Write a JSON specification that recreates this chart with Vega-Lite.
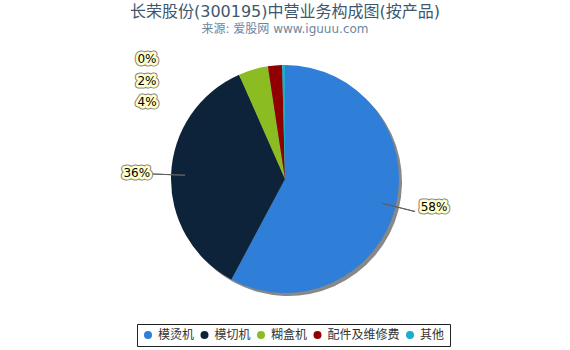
{
  "$schema": "https://vega.github.io/schema/vega-lite/v6.json",
  "width": 567,
  "height": 348,
  "autosize": {"type": "none"},
  "padding": {"left": 0, "top": 0, "right": 3, "bottom": 2},
  "background": "#ffffff",
  "title": {
    "text": "长荣股份(300195)中营业务构成图(按产品)",
    "subtitle": "来源: 爱股网 www.iguuu.com",
    "anchor": "middle",
    "frame": "group",
    "offset": -35,
    "dx": 1.5,
    "fontSize": 16,
    "fontWeight": "normal",
    "color": "#3E576F",
    "font": "DejaVu Sans, Noto Sans CJK SC",
    "subtitleFont": "DejaVu Sans, Noto Sans CJK SC",
    "subtitleFontSize": 12,
    "subtitleColor": "#6D869F",
    "subtitlePadding": 4
  },
  "data": {
    "values": [
      {"类别": "模烫机", "占比": 0.578, "序号": 1},
      {"类别": "模切机", "占比": 0.356, "序号": 2},
      {"类别": "糊盒机", "占比": 0.042, "序号": 3},
      {"类别": "配件及维修费", "占比": 0.020, "序号": 4},
      {"类别": "其他", "占比": 0.004, "序号": 5}
    ]
  },
  "encoding": {
    "theta": {"field": "占比", "type": "quantitative", "stack": true},
    "order": {"field": "序号", "type": "quantitative"},
    "detail": {"field": "类别", "type": "nominal"}
  },
  "resolve": {"scale": {"theta": "independent"}},
  "layer": [
    {"mark": {"type": "arc", "outerRadius": 114, "fill": "#888888", "xOffset": 4.5, "yOffset": 8}},
    {
      "mark": {"type": "arc", "outerRadius": 114, "xOffset": 1.5, "yOffset": 5},
      "encoding": {
        "color": {
          "field": "类别",
          "type": "nominal",
          "scale": {
            "domain": ["模烫机", "模切机", "糊盒机", "配件及维修费", "其他"],
            "range": ["#2f7ed8", "#0d233a", "#8bbc21", "#910000", "#1aadce"]
          },
          "legend": {
            "orient": "none",
            "legendX": 137,
            "legendY": 324,
            "direction": "horizontal",
            "title": null,
            "strokeColor": "#222222",
            "fillColor": "#ffffff",
            "padding": 5,
            "symbolType": "circle",
            "symbolSize": 64,
            "symbolStrokeWidth": 0,
            "labelFontSize": 12,
            "labelFont": "Noto Sans CJK SC",
            "labelColor": "#333333",
            "columnPadding": 3.5,
            "labelOffset": 4
          }
        }
      }
    },
    {
      "mark": {"type": "arc", "innerRadius": 100, "outerRadius": 134, "padAngle": 3, "fill": "transparent", "strokeWidth": 1, "xOffset": 1.5, "yOffset": 5},
      "encoding": {
        "stroke": {"condition": {"test": "datum['类别'] === '模切机'", "value": "#606060"}, "value": "transparent"}
      }
    },
    {
      "mark": {"type": "arc", "innerRadius": 100, "outerRadius": 134, "padAngle": 3, "fill": "transparent", "strokeWidth": 1, "xOffset": 1.5, "yOffset": 5},
      "encoding": {
        "theta": {"field": "占比", "type": "quantitative", "stack": true, "scale": {"range": [0.908, 4.0496]}},
        "stroke": {"condition": {"test": "datum['类别'] === '模烫机'", "value": "#606060"}, "value": "transparent"}
      }
    },
    {
      "mark": {"type": "text", "radius": 150, "dx": 3.5, "dy": -8.4, "align": "center", "baseline": "middle", "font": "DejaVu Sans", "fontSize": 12, "fill": "#808080", "stroke": "#808080", "strokeWidth": 7, "strokeJoin": "round", "xOffset": 1.5, "yOffset": 5},
      "encoding": {"text": {"condition": {"test": "datum['类别'] === '模烫机'", "field": "占比", "type": "quantitative", "format": ".0%"}, "value": ""}}
    },
    {
      "mark": {"type": "text", "radius": 150, "dx": 3.5, "dy": -8.4, "align": "center", "baseline": "middle", "font": "DejaVu Sans", "fontSize": 12, "fill": "#ffffcc", "stroke": "#ffffcc", "strokeWidth": 5, "strokeJoin": "round", "xOffset": 1.5, "yOffset": 5},
      "encoding": {"text": {"condition": {"test": "datum['类别'] === '模烫机'", "field": "占比", "type": "quantitative", "format": ".0%"}, "value": ""}}
    },
    {
      "mark": {"type": "text", "radius": 150, "dx": 3.5, "dy": -8.4, "align": "center", "baseline": "middle", "font": "DejaVu Sans", "fontSize": 12, "fill": "#000000", "xOffset": 1.5, "yOffset": 5},
      "encoding": {"text": {"condition": {"test": "datum['类别'] === '模烫机'", "field": "占比", "type": "quantitative", "format": ".0%"}, "value": ""}}
    },
    {
      "mark": {"type": "text", "radius": 150, "dx": 1.6, "dy": -0.5, "align": "center", "baseline": "middle", "font": "DejaVu Sans", "fontSize": 12, "fill": "#808080", "stroke": "#808080", "strokeWidth": 7, "strokeJoin": "round", "xOffset": 1.5, "yOffset": 5},
      "encoding": {"text": {"condition": {"test": "datum['类别'] === '模切机'", "field": "占比", "type": "quantitative", "format": ".0%"}, "value": ""}}
    },
    {
      "mark": {"type": "text", "radius": 150, "dx": 1.6, "dy": -0.5, "align": "center", "baseline": "middle", "font": "DejaVu Sans", "fontSize": 12, "fill": "#ffffcc", "stroke": "#ffffcc", "strokeWidth": 5, "strokeJoin": "round", "xOffset": 1.5, "yOffset": 5},
      "encoding": {"text": {"condition": {"test": "datum['类别'] === '模切机'", "field": "占比", "type": "quantitative", "format": ".0%"}, "value": ""}}
    },
    {
      "mark": {"type": "text", "radius": 150, "dx": 1.6, "dy": -0.5, "align": "center", "baseline": "middle", "font": "DejaVu Sans", "fontSize": 12, "fill": "#000000", "xOffset": 1.5, "yOffset": 5},
      "encoding": {"text": {"condition": {"test": "datum['类别'] === '模切机'", "field": "占比", "type": "quantitative", "format": ".0%"}, "value": ""}}
    },
    {
      "mark": {"type": "text", "radius": 120, "dx": -104.5, "dy": 38, "align": "center", "baseline": "middle", "font": "DejaVu Sans", "fontSize": 12, "fill": "#808080", "stroke": "#808080", "strokeWidth": 7, "strokeJoin": "round", "xOffset": 1.5, "yOffset": 5},
      "encoding": {"text": {"condition": {"test": "datum['类别'] === '糊盒机'", "field": "占比", "type": "quantitative", "format": ".0%"}, "value": ""}}
    },
    {
      "mark": {"type": "text", "radius": 120, "dx": -104.5, "dy": 38, "align": "center", "baseline": "middle", "font": "DejaVu Sans", "fontSize": 12, "fill": "#ffffcc", "stroke": "#ffffcc", "strokeWidth": 5, "strokeJoin": "round", "xOffset": 1.5, "yOffset": 5},
      "encoding": {"text": {"condition": {"test": "datum['类别'] === '糊盒机'", "field": "占比", "type": "quantitative", "format": ".0%"}, "value": ""}}
    },
    {
      "mark": {"type": "text", "radius": 120, "dx": -104.5, "dy": 38, "align": "center", "baseline": "middle", "font": "DejaVu Sans", "fontSize": 12, "fill": "#000000", "xOffset": 1.5, "yOffset": 5},
      "encoding": {"text": {"condition": {"test": "datum['类别'] === '糊盒机'", "field": "占比", "type": "quantitative", "format": ".0%"}, "value": ""}}
    },
    {
      "mark": {"type": "text", "radius": 120, "dx": -127.5, "dy": 21.3, "align": "center", "baseline": "middle", "font": "DejaVu Sans", "fontSize": 12, "fill": "#808080", "stroke": "#808080", "strokeWidth": 7, "strokeJoin": "round", "xOffset": 1.5, "yOffset": 5},
      "encoding": {"text": {"condition": {"test": "datum['类别'] === '配件及维修费'", "field": "占比", "type": "quantitative", "format": ".0%"}, "value": ""}}
    },
    {
      "mark": {"type": "text", "radius": 120, "dx": -127.5, "dy": 21.3, "align": "center", "baseline": "middle", "font": "DejaVu Sans", "fontSize": 12, "fill": "#ffffcc", "stroke": "#ffffcc", "strokeWidth": 5, "strokeJoin": "round", "xOffset": 1.5, "yOffset": 5},
      "encoding": {"text": {"condition": {"test": "datum['类别'] === '配件及维修费'", "field": "占比", "type": "quantitative", "format": ".0%"}, "value": ""}}
    },
    {
      "mark": {"type": "text", "radius": 120, "dx": -127.5, "dy": 21.3, "align": "center", "baseline": "middle", "font": "DejaVu Sans", "fontSize": 12, "fill": "#000000", "xOffset": 1.5, "yOffset": 5},
      "encoding": {"text": {"condition": {"test": "datum['类别'] === '配件及维修费'", "field": "占比", "type": "quantitative", "format": ".0%"}, "value": ""}}
    },
    {
      "mark": {"type": "text", "radius": 120, "dx": -136.5, "dy": 0.2, "align": "center", "baseline": "middle", "font": "DejaVu Sans", "fontSize": 12, "fill": "#808080", "stroke": "#808080", "strokeWidth": 7, "strokeJoin": "round", "xOffset": 1.5, "yOffset": 5},
      "encoding": {"text": {"condition": {"test": "datum['类别'] === '其他'", "field": "占比", "type": "quantitative", "format": ".0%"}, "value": ""}}
    },
    {
      "mark": {"type": "text", "radius": 120, "dx": -136.5, "dy": 0.2, "align": "center", "baseline": "middle", "font": "DejaVu Sans", "fontSize": 12, "fill": "#ffffcc", "stroke": "#ffffcc", "strokeWidth": 5, "strokeJoin": "round", "xOffset": 1.5, "yOffset": 5},
      "encoding": {"text": {"condition": {"test": "datum['类别'] === '其他'", "field": "占比", "type": "quantitative", "format": ".0%"}, "value": ""}}
    },
    {
      "mark": {"type": "text", "radius": 120, "dx": -136.5, "dy": 0.2, "align": "center", "baseline": "middle", "font": "DejaVu Sans", "fontSize": 12, "fill": "#000000", "xOffset": 1.5, "yOffset": 5},
      "encoding": {"text": {"condition": {"test": "datum['类别'] === '其他'", "field": "占比", "type": "quantitative", "format": ".0%"}, "value": ""}}
    }
  ],
  "config": {"view": {"stroke": "#808080", "strokeWidth": 2}}
}
